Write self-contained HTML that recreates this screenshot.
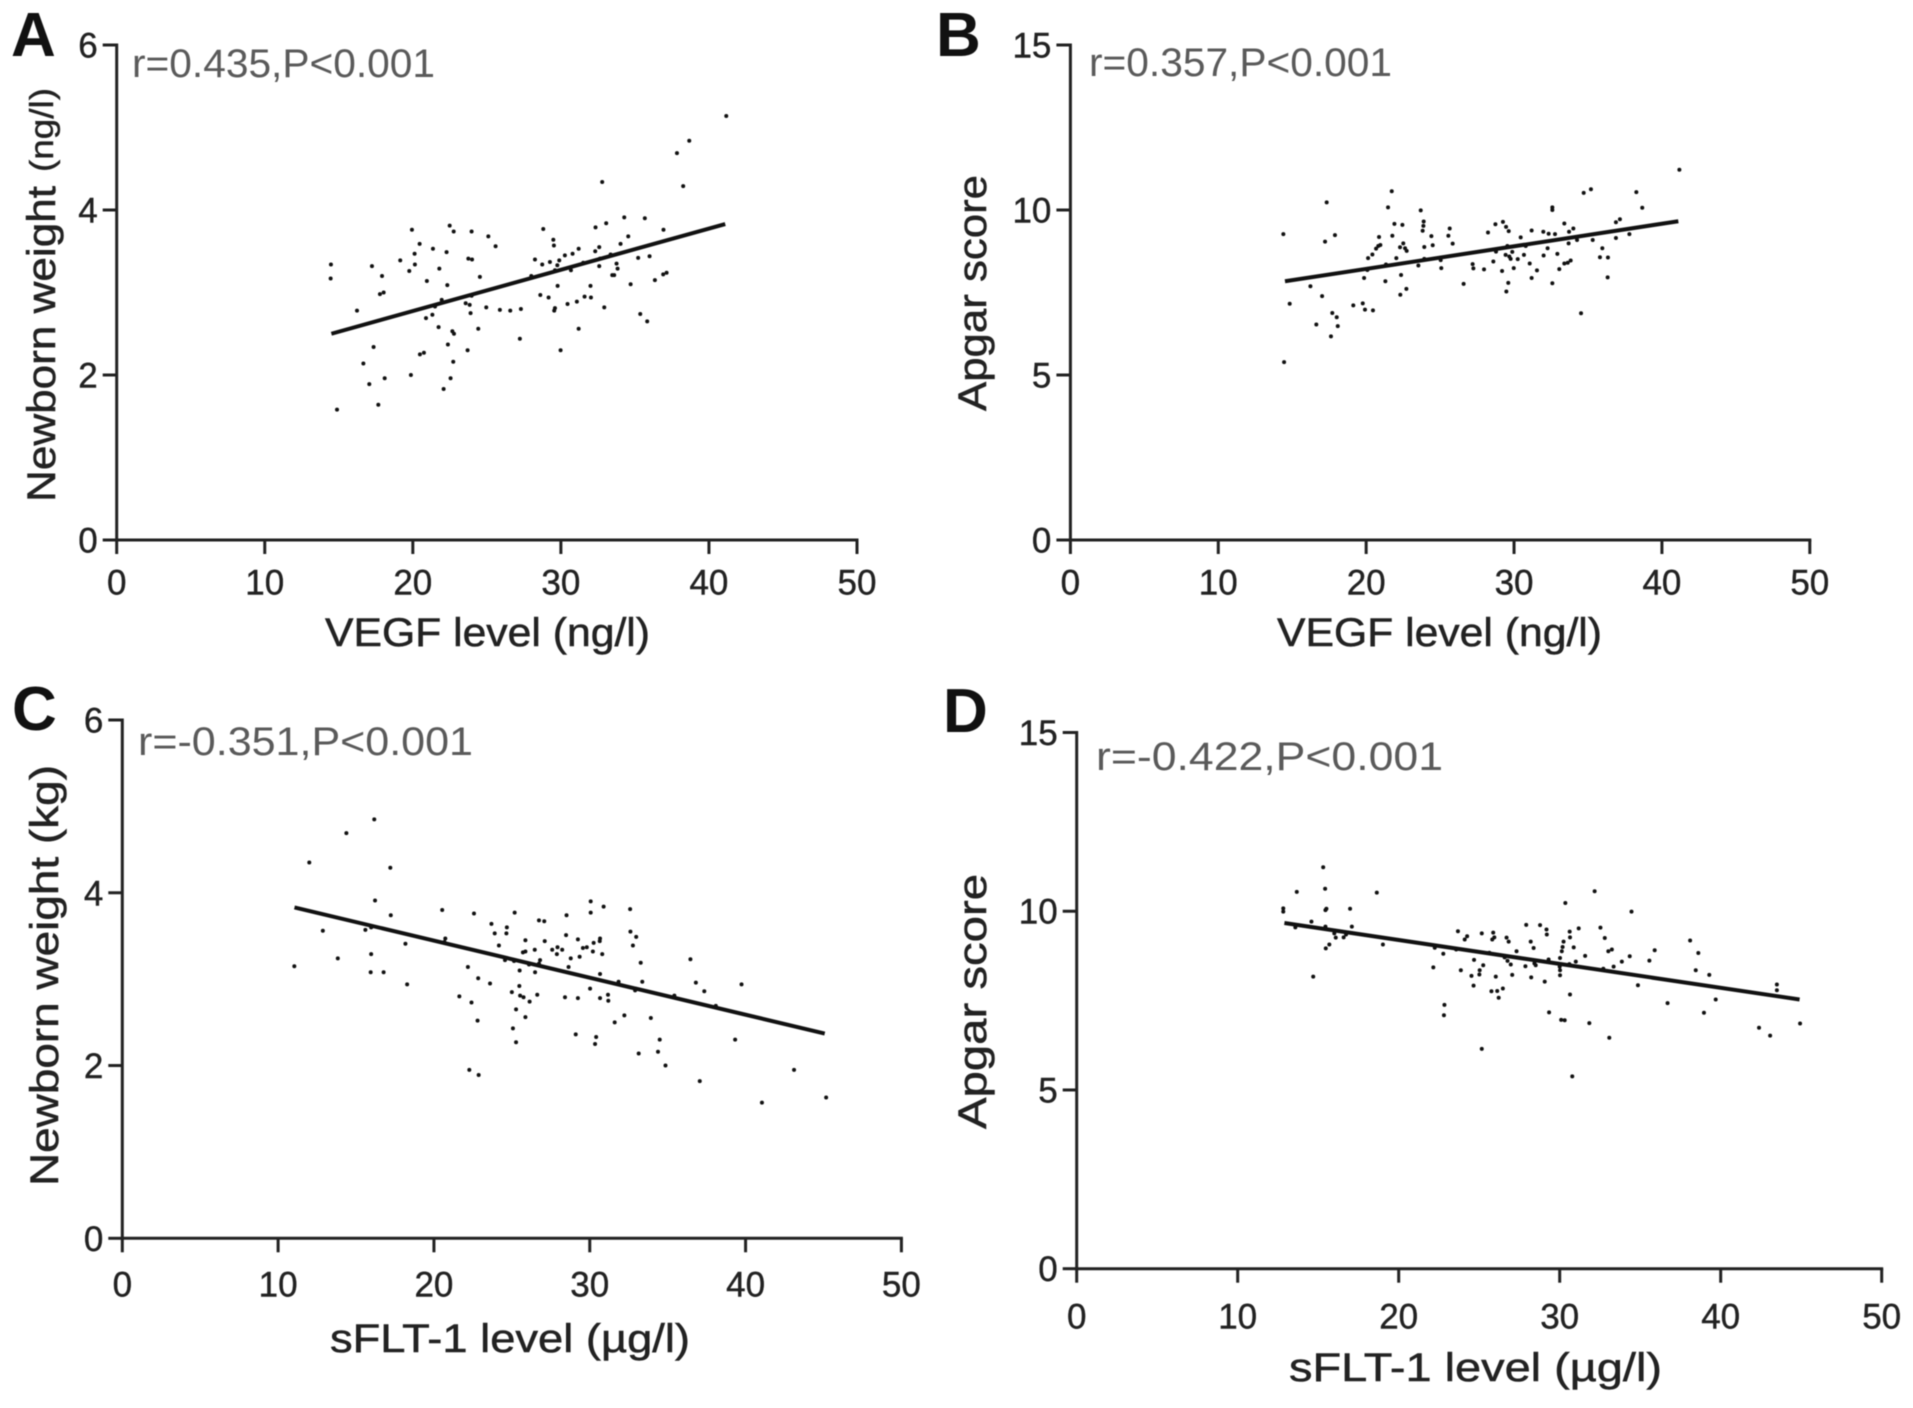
<!DOCTYPE html>
<html lang="en">
<head>
<meta charset="utf-8">
<title>Correlation scatter plots</title>
<style>
html,body{margin:0;padding:0;background:#fff;}
#figure{display:block;width:1913px;height:1408px;filter:blur(0.6px);font-family:"Liberation Sans",sans-serif;}
.letter{font-size:62px;font-weight:700;fill:#111;}
.note{font-size:40px;fill:#5a5a5a;}
.title{font-size:40px;fill:#222;stroke:#222;stroke-width:0.5px;}
.unit{font-size:33px;fill:#222;stroke:#222;stroke-width:0.4px;}
.tick-label{font-size:35px;fill:#222;stroke:#222;stroke-width:0.4px;}
</style>
</head>
<body>
<svg id="figure" xmlns="http://www.w3.org/2000/svg" width="1913" height="1408" viewBox="0 0 1913 1408">
  <rect x="0" y="0" width="1913" height="1408" fill="#fff"/>

  <g id="panel-a">
    <text class="letter" x="11" y="56">A</text>
    <text class="note" x="132" y="77" textLength="303" lengthAdjust="spacingAndGlyphs">r=0.435,P&lt;0.001</text>
    <text class="title" x="325" y="646" textLength="325" lengthAdjust="spacingAndGlyphs">VEGF level  (ng/l)</text>
    <text class="title" transform="translate(55,502) rotate(-90)" textLength="316" lengthAdjust="spacingAndGlyphs">Newborn weight</text>
    <text class="unit" transform="translate(53,172) rotate(-90)" textLength="84" lengthAdjust="spacingAndGlyphs">(ng/l)</text>
  </g>

  <g id="panel-b">
    <text class="letter" x="936" y="56">B</text>
    <text class="note" x="1089" y="76" textLength="303" lengthAdjust="spacingAndGlyphs">r=0.357,P&lt;0.001</text>
    <text class="title" x="1277" y="646" textLength="325" lengthAdjust="spacingAndGlyphs">VEGF level  (ng/l)</text>
    <text class="title" transform="translate(986,411) rotate(-90)" textLength="236" lengthAdjust="spacingAndGlyphs">Apgar score</text>
  </g>

  <g id="panel-c">
    <text class="letter" x="12" y="730">C</text>
    <text class="note" x="138" y="755" textLength="335" lengthAdjust="spacingAndGlyphs">r=-0.351,P&lt;0.001</text>
    <text class="title" x="330" y="1352" textLength="360" lengthAdjust="spacingAndGlyphs">sFLT-1 level (µg/l)</text>
    <text class="title" transform="translate(58,1186) rotate(-90)" textLength="421" lengthAdjust="spacingAndGlyphs">Newborn weight (kg)</text>
  </g>

  <g id="panel-d">
    <text class="letter" x="943" y="732">D</text>
    <text class="note" x="1096" y="770" textLength="347" lengthAdjust="spacingAndGlyphs">r=-0.422,P&lt;0.001</text>
    <text class="title" x="1289" y="1381" textLength="373" lengthAdjust="spacingAndGlyphs">sFLT-1 level (µg/l)</text>
    <text class="title" transform="translate(986,1129) rotate(-90)" textLength="255" lengthAdjust="spacingAndGlyphs">Apgar score</text>
  </g>
</svg>

<script>
var xTickValues = [0, 10, 20, 30, 40, 50];
var weightTicks = [0, 2, 4, 6];
var apgarTicks = [0, 5, 10, 15];

var vegfWeightX = [14.47,14.45,14.88,16.23,16.66,17.06,17.35,17.67,17.24,17.92,17.78,18.03,18.10,19.15,19.94,19.87,19.76,20.14,20.12,20.46,20.48,20.75,20.89,21.32,20.95,21.36,21.79,21.50,21.95,21.74,22.08,22.28,22.33,22.37,22.49,22.76,22.55,22.73,22.67,22.78,23.57,23.84,23.70,23.90,23.75,24.00,23.97,23.97,24.42,24.53,24.96,25.10,25.59,25.88,26.58,27.30,27.23,28.00,28.25,28.61,28.74,28.81,29.17,29.26,29.49,29.53,29.60,29.55,29.60,29.76,29.78,29.89,29.98,30.27,30.45,30.68,30.79,31.08,31.20,31.20,31.51,31.60,32.00,32.03,32.34,32.32,32.59,32.64,32.59,32.93,32.79,33.06,33.47,33.36,33.60,33.76,33.83,34.03,34.28,34.55,34.71,35.22,35.36,35.67,35.83,35.99,36.35,36.91,37.14,36.93,37.84,38.26,38.67,41.17];
var vegfWeightY = [3.34,3.17,1.58,2.78,2.14,1.89,2.34,1.64,3.32,3.20,2.98,3.00,1.96,3.39,3.76,2.00,3.26,3.34,3.47,3.59,2.25,2.27,2.69,2.73,3.14,3.53,3.29,2.83,2.91,2.58,1.83,3.49,3.09,2.37,3.81,3.74,1.96,2.16,2.53,2.50,2.87,2.85,2.30,2.75,3.41,3.40,3.74,2.96,2.56,3.19,2.82,3.68,3.56,2.79,2.78,2.80,2.44,3.20,3.40,2.97,3.34,3.77,2.94,3.37,3.64,3.57,2.81,2.78,3.27,3.33,3.08,3.39,2.30,3.45,2.86,3.27,3.47,2.89,3.53,2.56,3.36,2.95,3.08,2.94,3.79,3.50,3.55,3.41,3.32,2.82,4.34,3.84,3.21,3.46,3.21,3.35,3.29,3.59,3.91,3.68,3.10,3.42,2.74,3.90,2.65,3.44,3.15,3.22,3.24,3.76,4.69,4.29,4.84,5.14];
var vegfWeightFitX = [14.5, 41.1];
var vegfWeightFitY = [2.50, 3.83];

var vegfApgarX = [14.40,14.45,14.83,16.23,16.63,17.02,17.22,17.33,17.62,17.71,17.89,18.01,18.08,19.13,19.77,19.92,20.46,19.86,20.13,20.42,20.08,20.67,20.82,20.96,20.87,21.30,21.34,21.48,21.73,21.77,21.91,22.04,22.31,22.36,22.72,22.29,22.51,22.63,22.74,22.45,23.53,23.69,23.89,23.87,23.82,23.93,23.93,24.41,24.50,25.04,25.08,25.56,25.65,25.85,26.59,27.20,27.25,27.97,28.24,28.60,28.74,28.78,29.19,29.25,29.46,29.64,29.48,29.61,29.55,29.43,29.68,29.77,29.88,29.98,30.25,30.45,30.67,30.79,31.06,31.19,31.19,31.55,31.98,32.00,32.27,32.34,32.59,32.59,32.59,32.77,32.93,33.06,33.40,33.63,33.83,33.40,33.72,34.01,33.69,34.26,34.53,34.71,35.20,35.32,35.81,35.97,36.35,36.33,36.89,36.89,37.16,37.80,38.27,38.67,41.18];
var vegfApgarY = [9.27,5.39,7.16,7.69,6.53,7.39,9.04,10.23,6.17,6.88,9.24,6.75,6.48,7.11,7.17,6.98,6.96,7.94,8.54,8.65,8.18,8.83,8.91,8.94,9.18,7.84,8.35,10.08,10.57,9.22,9.58,8.54,7.43,8.03,7.61,8.87,8.99,8.84,8.76,9.55,8.32,9.99,9.65,9.52,9.37,8.88,8.52,9.21,8.93,8.48,8.24,9.22,9.44,8.98,7.76,8.36,8.23,8.20,9.32,8.44,9.57,8.74,8.15,9.64,9.49,9.36,7.53,7.79,8.91,8.64,8.59,8.52,8.73,8.24,8.51,9.17,8.64,8.91,8.38,7.94,9.38,8.17,9.34,8.62,8.84,9.28,10.08,10.00,7.78,9.27,8.67,8.21,8.38,8.40,8.47,9.59,9.34,9.44,8.99,9.09,6.87,10.52,10.63,9.09,8.57,8.84,8.56,7.96,9.15,9.63,9.72,9.27,10.54,10.07,11.22];
var vegfApgarFitX = [14.51, 41.11];
var vegfApgarFitY = [7.84, 9.66];

var sfltWeightX = [11.04,12.00,12.87,13.83,14.38,15.60,15.97,15.94,15.97,16.17,16.22,16.77,17.20,17.23,18.17,18.28,20.53,20.73,20.67,21.63,22.18,22.27,22.41,22.57,22.80,22.84,22.87,23.60,23.69,23.90,24.17,24.56,24.68,24.65,25.00,25.07,25.14,25.18,25.27,25.27,25.48,25.53,25.50,25.75,25.71,25.87,25.87,25.87,26.10,26.14,26.47,26.49,26.63,26.74,26.81,26.74,27.08,27.11,27.59,27.93,27.89,28.23,28.41,28.51,28.48,28.64,28.78,29.10,29.24,29.24,29.35,29.56,29.81,30.02,30.06,30.06,30.20,30.25,30.34,30.41,30.66,30.66,30.64,30.66,30.80,30.89,31.17,31.19,31.60,31.85,32.22,32.59,32.61,32.77,32.91,32.98,33.14,33.27,33.37,33.92,34.38,34.49,34.86,35.43,36.46,36.81,37.06,37.35,38.09,39.33,39.74,41.05,43.11,45.17];
var sfltWeightY = [3.15,4.35,3.56,3.24,4.69,3.57,3.60,3.08,3.29,4.85,3.91,3.08,4.29,3.74,3.41,2.94,3.80,3.47,3.43,2.80,3.14,1.95,2.73,3.76,2.52,3.01,1.89,2.95,3.64,3.53,3.39,3.22,3.60,3.53,2.85,2.43,3.21,3.77,2.65,2.27,2.92,2.81,3.10,2.79,3.31,3.32,3.45,2.56,3.17,2.74,3.34,3.08,2.82,3.18,3.22,3.68,3.67,3.44,3.34,3.37,3.29,3.34,2.79,3.74,3.51,3.14,3.24,2.36,2.78,3.46,3.26,3.36,3.37,2.89,3.90,3.77,3.32,3.42,2.25,2.33,3.06,2.78,3.44,3.47,3.29,3.84,2.82,2.75,2.50,2.97,2.58,3.81,3.55,3.39,2.87,3.49,2.14,3.19,2.97,2.55,2.16,2.30,2.00,2.81,3.23,2.96,1.82,2.86,2.69,2.30,2.94,1.57,1.95,1.63];
var sfltWeightFitX = [11.05, 45.08];
var sfltWeightFitY = [3.83, 2.37];

var sfltApgarX = [12.83,12.83,13.58,13.67,14.58,14.69,15.31,15.43,15.45,15.45,15.51,15.47,15.69,16.00,16.09,16.58,16.73,16.98,17.09,18.64,19.02,22.15,22.24,22.77,22.81,22.84,23.57,23.68,23.86,24.10,24.25,24.52,24.65,24.68,25.01,25.03,25.16,25.16,25.25,25.63,25.76,25.81,25.87,25.94,26.03,26.12,26.47,26.21,26.70,26.83,26.58,26.76,26.96,27.05,27.32,27.87,27.92,28.20,28.23,28.38,28.43,28.51,28.78,29.07,29.18,29.20,29.31,29.34,30.00,30.02,30.02,30.02,30.13,30.18,30.24,30.09,30.31,30.35,30.62,30.64,30.64,30.60,30.78,30.87,31.00,31.18,31.58,31.84,32.17,32.53,32.71,32.80,33.08,33.02,33.24,33.35,33.86,34.35,34.46,34.86,35.57,35.90,36.70,38.10,38.45,38.61,38.96,39.29,39.69,42.38,43.07,43.49,43.49,44.93];
var sfltApgarY = [10.08,9.99,9.55,10.54,9.71,8.17,11.23,10.63,9.57,10.03,10.07,8.96,9.07,9.38,9.26,9.27,9.35,10.07,9.57,10.52,9.07,8.43,8.98,8.81,7.09,7.38,8.93,9.44,8.35,9.21,9.30,8.19,7.92,8.64,8.23,8.35,9.38,6.15,8.49,8.84,7.76,9.21,9.40,9.27,8.17,7.77,7.84,7.58,9.26,9.15,8.71,8.61,8.51,8.22,8.88,8.46,9.62,9.15,8.15,8.97,8.54,8.49,9.61,8.03,9.49,9.35,8.65,7.17,8.45,8.69,8.21,8.35,8.88,9.00,9.15,6.96,6.95,10.23,9.43,9.27,7.67,8.52,5.38,8.99,8.59,9.52,8.75,6.87,10.56,9.54,8.39,9.25,6.46,8.88,8.93,8.45,8.59,8.74,9.99,7.93,8.62,8.91,7.43,9.18,8.35,8.83,7.16,8.22,7.53,6.74,6.52,7.95,7.79,6.86];
var sfltApgarFitX = [12.90, 44.90];
var sfltApgarFitY = [9.67, 7.53];

var SVG_NS = 'http://www.w3.org/2000/svg';
var AXIS_COLOR = '#222222';

function makeEl(tag, parent) {
  var el = document.createElementNS(SVG_NS, tag);
  parent.appendChild(el);
  return el;
}

function drawLine(parent, x1, y1, x2, y2, width) {
  var el = makeEl('line', parent);
  el.setAttribute('x1', x1);
  el.setAttribute('y1', y1);
  el.setAttribute('x2', x2);
  el.setAttribute('y2', y2);
  el.setAttribute('stroke', AXIS_COLOR);
  el.setAttribute('stroke-width', width);
  return el;
}

function drawPanel(id, box, xs, ys, fitX, fitY, yTicks, yMax) {
  var parent = document.getElementById(id);
  function sx(v) { return box.x0 + (v / 50) * (box.x50 - box.x0); }
  function sy(v) { return box.y0 + (v / yMax) * (box.yTop - box.y0); }

  var xAxis = drawLine(parent, sx(0) - 1.5, sy(0), sx(50) + 1.5, sy(0), 3);
  
  

  var yAxis = drawLine(parent, sx(0), sy(0) + 1.5, sx(0), sy(yMax) - 1.5, 3);
  
  

  xTickValues.forEach(function (v) {
    var tick = drawLine(parent, sx(v), sy(0), sx(v), sy(0) + 14, 3);
    
    
    var label = makeEl('text', parent);
    
    
    label.setAttribute('class', 'tick-label');
    label.setAttribute('x', sx(v));
    label.setAttribute('y', box.xLabelY);
    label.setAttribute('text-anchor', 'middle');
    label.textContent = v;
  });

  yTicks.forEach(function (v) {
    var tick = drawLine(parent, sx(0) - 14, sy(v), sx(0), sy(v), 3);
    
    
    var label = makeEl('text', parent);
    
    
    label.setAttribute('class', 'tick-label');
    label.setAttribute('x', sx(0) - 19);
    label.setAttribute('y', sy(v) + 12.5);
    label.setAttribute('text-anchor', 'end');
    label.textContent = v;
  });

  xs.forEach(function (v, i) {
    var dot = makeEl('circle', parent);
    
    
    dot.setAttribute('cx', sx(v));
    dot.setAttribute('cy', sy(ys[i]));
    dot.setAttribute('r', 2);
    dot.setAttribute('fill', '#111111');
  });

  var fit = drawLine(parent, sx(fitX[0]), sy(fitY[0]), sx(fitX[1]), sy(fitY[1]), 4);
  fit.setAttribute('stroke', '#111111');
  
  
}

drawPanel('panel-a', {x0: 116.7, x50: 857, y0: 540, yTop: 45, xLabelY: 594.5}, vegfWeightX, vegfWeightY, vegfWeightFitX, vegfWeightFitY, weightTicks, 6);
drawPanel('panel-b', {x0: 1070.4, x50: 1809.8, y0: 540, yTop: 45, xLabelY: 594.5}, vegfApgarX, vegfApgarY, vegfApgarFitX, vegfApgarFitY, apgarTicks, 15);
drawPanel('panel-c', {x0: 122.3, x50: 901.4, y0: 1238.3, yTop: 720, xLabelY: 1296.5}, sfltWeightX, sfltWeightY, sfltWeightFitX, sfltWeightFitY, weightTicks, 6);
drawPanel('panel-d', {x0: 1076.7, x50: 1881.7, y0: 1268.7, yTop: 732.5, xLabelY: 1328.5}, sfltApgarX, sfltApgarY, sfltApgarFitX, sfltApgarFitY, apgarTicks, 15);
</script>
</body>
</html>
